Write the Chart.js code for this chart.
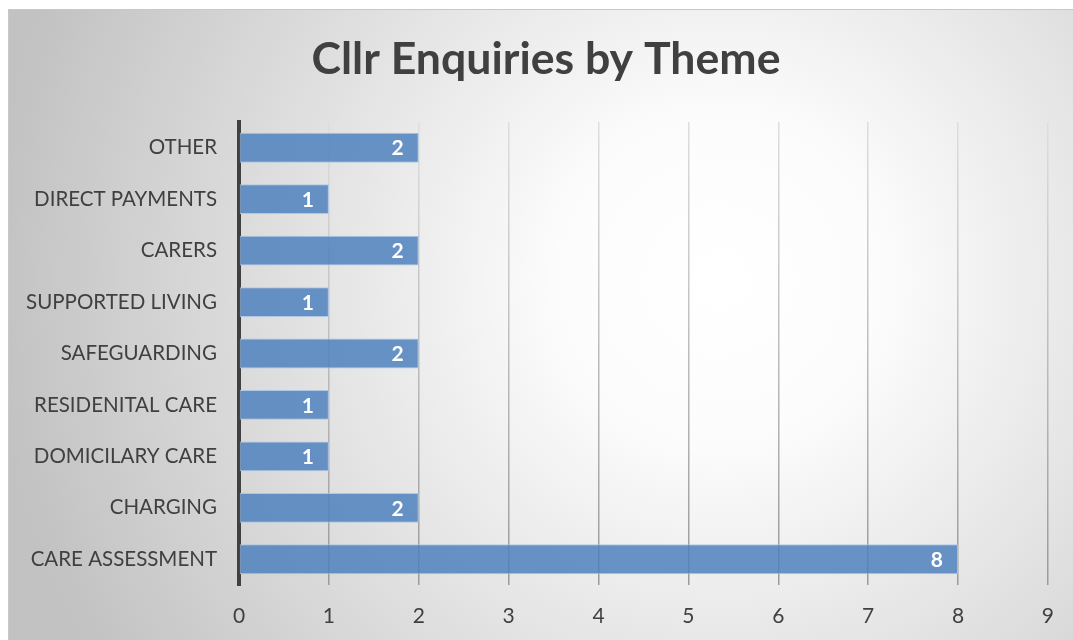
<!DOCTYPE html>
<html>
<head>
<meta charset="utf-8">
<script src="https://cdn.jsdelivr.net/npm/chart.js@4"></script>
<style>
  html, body { margin: 0; padding: 0; background: #fff; }
  #wrap { width: 1073px; height: 640px; }
</style>
</head>
<body>
<div id="wrap"><canvas id="chart" width="1073" height="640"></canvas></div>
<script>
const themes = ['OTHER', 'DIRECT PAYMENTS', 'CARERS', 'SUPPORTED LIVING', 'SAFEGUARDING',
    'RESIDENITAL CARE', 'DOMICILARY CARE', 'CHARGING', 'CARE ASSESSMENT'];
const enquiries = [2, 1, 2, 1, 2, 1, 1, 2, 8];
const xTicks = [0, 1, 2, 3, 4, 5, 6, 7, 8, 9];
const chartTitle = 'Cllr Enquiries by Theme';

const FONT = 'Lato, Carlito, "Open Sans", sans-serif';

// gradient panel behind the chart, plus the title
const panelBg = {
    id: 'panelBg',
    beforeDraw(chart) {
        const ctx = chart.ctx;
        const x0 = 8, y0 = 9, w = chart.width - x0, h = chart.height - y0;
        ctx.save();
        const g = ctx.createRadialGradient(720, 280, 0, 720, 280, 730);
        g.addColorStop(0, '#ffffff');
        g.addColorStop(0.22, '#fcfcfc');
        g.addColorStop(1, '#c2c2c2');
        ctx.fillStyle = g;
        ctx.fillRect(x0, y0, w, h);
        ctx.strokeStyle = '#c8c8c8';
        ctx.lineWidth = 1;
        ctx.strokeRect(x0 + 0.5, y0 + 0.5, w, h);

        ctx.font = 'bold 44.6px ' + FONT;
        ctx.fillStyle = '#404040';
        ctx.textAlign = 'center';
        ctx.textBaseline = 'middle';
        ctx.fillText(chartTitle, 546, 60);
        ctx.restore();
    }
};

// value labels inside bar end
const barLabels = {
    id: 'barLabels',
    afterDatasetsDraw(chart) {
        const ctx = chart.ctx;
        const meta = chart.getDatasetMeta(0);
        ctx.save();
        ctx.font = 'bold 21px ' + FONT;
        ctx.fillStyle = '#ffffff';
        ctx.textAlign = 'right';
        ctx.textBaseline = 'middle';
        meta.data.forEach((bar, i) => {
            ctx.fillText(String(enquiries[i]), bar.x - 15, bar.y + 1);
        });
        ctx.restore();
    }
};

// grid lines fade from light at the top to darker at the bottom
function gridColor(c) {
    const area = c.chart.chartArea;
    if (!area) return '#ababab';
    const g = c.chart.ctx.createLinearGradient(0, area.top, 0, area.bottom);
    g.addColorStop(0, '#dedede');
    g.addColorStop(1, '#9a9a9a');
    return g;
}

new Chart(document.getElementById('chart'), {
    type: 'bar',
    data: {
        labels: themes,
        datasets: [{
            data: enquiries,
            backgroundColor: 'rgba(79, 129, 189, 0.85)',
            borderColor: 'rgba(170, 196, 228, 0.9)',
            borderWidth: 1,
            borderSkipped: false,
            categoryPercentage: 1,
            barPercentage: 0.58
        }]
    },
    options: {
        indexAxis: 'y',
        responsive: false,
        animation: false,
        layout: { padding: { left: 8, right: 25, bottom: 12, top: 122 } },
        plugins: {
            legend: { display: false },
            tooltip: { enabled: false },
            title: { display: false }
        },
        scales: {
            x: {
                min: 0,
                max: 9,
                afterBuildTicks: scale => { scale.ticks = xTicks.map(v => ({ value: v })); },
                afterFit: scale => { scale.height = 43; },
                grid: { color: gridColor, lineWidth: 1.5, drawTicks: false },
                border: { display: false },
                ticks: {
                    color: '#404040',
                    padding: 19,
                    font: { family: FONT, size: 21 }
                }
            },
            y: {
                grid: { display: false, drawTicks: false },
                border: { display: true, color: '#404040', width: 4 },
                afterFit: scale => { scale.width = 231; },
                ticks: {
                    color: '#404040',
                    padding: 22,
                    font: { family: FONT, size: 20.5 }
                }
            }
        }
    },
    plugins: [panelBg, barLabels]
});
</script>
</body>
</html>
